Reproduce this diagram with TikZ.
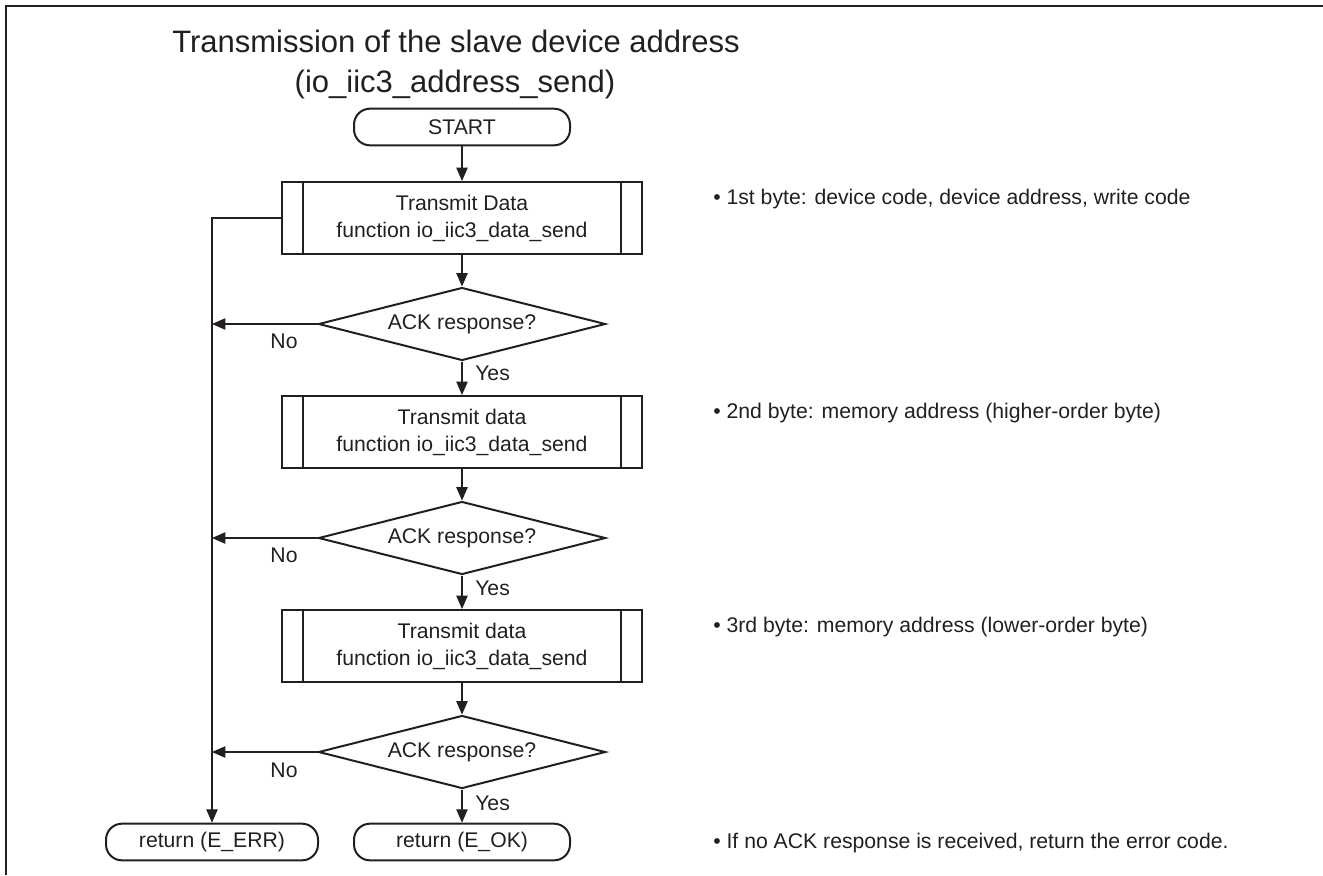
\documentclass[tikz,border=0pt]{standalone}
\usepackage{fontspec}
\setmainfont{Liberation Sans}
\usetikzlibrary{shapes.geometric,arrows.meta}
\definecolor{ink}{HTML}{231F20}
\newcommand{\bodyfont}{\fontsize{15.9pt}{20.25pt}\selectfont}
\newcommand{\titlefont}{\fontsize{23.25pt}{30pt}\selectfont}
\begin{document}
\begin{tikzpicture}[x=0.75pt,y=-0.75pt,
  every node/.style={text=ink},
  procbox/.style={draw=ink, line width=1.5pt, minimum width=270pt, minimum height=54pt,
    inner sep=0pt, align=center, font=\bodyfont},
  termbox/.style={draw=ink, line width=1.5pt, rounded corners=12pt, minimum height=27.5pt,
    inner sep=0pt, font=\bodyfont},
  decbox/.style={diamond, aspect=3.93, draw=ink, line width=1.5pt, minimum width=215.25pt,
    minimum height=54.75pt, inner sep=0pt, font=\bodyfont},
  arr/.style={draw=ink, line width=0.95pt, -{Triangle[length=10pt,width=8.5pt]}},
  lbl/.style={font=\bodyfont, inner sep=0pt},
  note/.style={font=\bodyfont, inner sep=0pt, anchor=base west}]
\useasboundingbox (0,0) rectangle (1323,875);
% frame
\draw[ink, line width=1.9pt] (6,875) -- (6,6) -- (1323,6);
% title
\node[font=\titlefont, inner sep=0pt, anchor=base] (t1) at (456,52) {Transmission of the slave device address};
\node[font=\titlefont, inner sep=0pt, anchor=base] (t2) at (455,92) {(io\_iic3\_address\_send)};
% nodes
\node[termbox, minimum width=162pt] (start) at (462,127) {START};
\node[procbox] (b1) at (462,218) {Transmit Data\\function io\_iic3\_data\_send};
\node[decbox] (d1) at (462,324) {ACK response?};
\node[procbox] (b2) at (462,432) {Transmit data\\function io\_iic3\_data\_send};
\node[decbox] (d2) at (462,538) {ACK response?};
\node[procbox] (b3) at (462,646) {Transmit data\\function io\_iic3\_data\_send};
\node[decbox] (d3) at (462,752) {ACK response?};
\node[termbox, minimum width=162pt] (ok) at (462,842) {return (E\_OK)};
\node[termbox, minimum width=159pt] (err) at (212,842) {return (E\_ERR)};
\foreach \b in {b1,b2,b3}{
  \draw[ink, line width=1.5pt] ([xshift=16.5pt]\b.north west) -- ([xshift=16.5pt]\b.south west);
  \draw[ink, line width=1.5pt] ([xshift=-16.5pt]\b.north east) -- ([xshift=-16.5pt]\b.south east);
}
% labels
\node[lbl] (no1) at (284,341) {No};
\node[lbl] (no2) at (284,555) {No};
\node[lbl] (no3) at (284,770) {No};
\node[lbl, anchor=west] (y1) at (475,373) {Yes};
\node[lbl, anchor=west] (y2) at (475,588) {Yes};
\node[lbl, anchor=west] (y3) at (475,803) {Yes};
% notes
\node[note] (n1) at (713,204) {• 1st byte: device code, device address, write code};
\node[note] (n2) at (713,418) {• 2nd byte: memory address (higher-order byte)};
\node[note] (n3) at (713,632) {• 3rd byte: memory address (lower-order byte)};
\node[note] (n4) at (713,848) {• If no ACK response is received, return the error code.};
% connectors
\draw[arr] (start) -- (b1);
\draw[arr] (b1) -- (d1);
\draw[arr] (d1) -- (b2);
\draw[arr] (b2) -- (d2);
\draw[arr] (d2) -- (b3);
\draw[arr] (b3) -- (d3);
\draw[arr] (d3) -- (ok);
\draw[arr] (b1.west) -| (err.north);
\draw[arr] (d1.west) -- (d1.west -| err.north);
\draw[arr] (d2.west) -- (d2.west -| err.north);
\draw[arr] (d3.west) -- (d3.west -| err.north);
\end{tikzpicture}
\end{document}
